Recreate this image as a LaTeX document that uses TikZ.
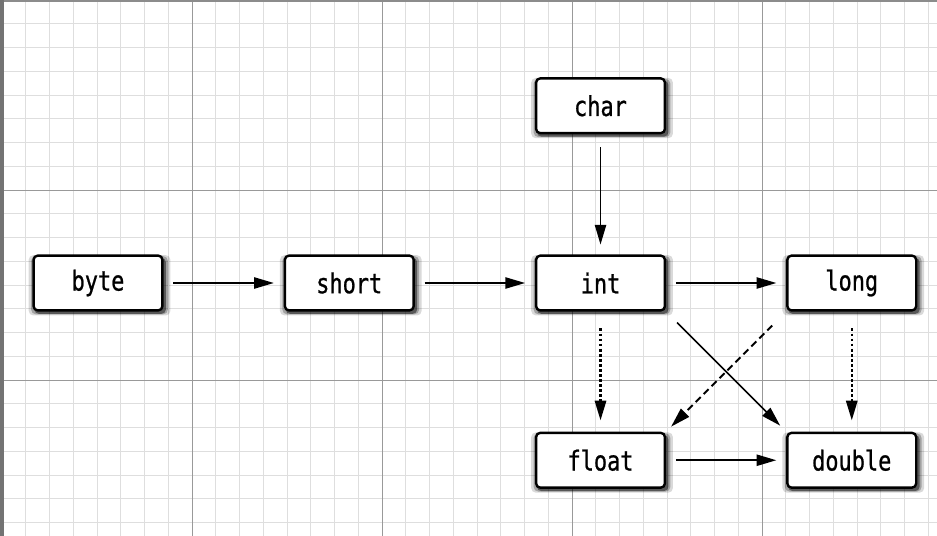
\documentclass[tikz,border=0pt]{standalone}
\usepackage{fontspec}
\newfontfamily\typefont[FakeStretch=0.8, FakeBold=0.8]{DejaVu Sans Mono}
\usetikzlibrary{arrows.meta, positioning, shadows}

\begin{document}
\begin{tikzpicture}[
  x=0.025cm, y=-0.025cm,
  node distance=3.0cm,
  finegrid/.style={draw=black!13, line width=0.6pt},
  coarsegrid/.style={draw=black!40, line width=0.6pt},
  typebox/.style={
    rectangle, rounded corners=3pt,
    draw=black, line width=1.7pt, fill=white,
    minimum width=3.22cm, minimum height=1.37cm,
    font=\typefont\fontsize{19.5}{22}\selectfont,
    general shadow={fill=black, opacity=0.15, shadow scale=1.1, shadow xshift=1pt, shadow yshift=-1.5pt},
    general shadow={fill=black, opacity=0.25, shadow scale=1.06, shadow xshift=1pt, shadow yshift=-1.5pt},
    general shadow={fill=black, opacity=0.45, shadow scale=1.02, shadow xshift=1.5pt, shadow yshift=-2pt},
  },
  widen/.style={-{Triangle[length=14pt, width=8pt]}, line width=1.1pt, shorten <=7pt, shorten >=7pt},
  lossy/.style={widen, line width=1.6pt, dash pattern=on 2pt off 1.6pt},
  lossydash/.style={widen, line width=1.4pt, dash pattern=on 5pt off 3pt},
]
  % squared paper
  \useasboundingbox (0,0) rectangle (937,536);
  \fill[white] (0,0) rectangle (937,536);
  \foreach \k in {0,...,39}
    \draw[finegrid] ({2+\k*23.75},0) -- ({2+\k*23.75},536);
  \foreach \k in {0,...,22}
    \draw[finegrid] (0,{\k*23.75}) -- (937,{\k*23.75});
  \foreach \k in {1,...,4}
    \draw[coarsegrid] ({2+\k*190},0) -- ({2+\k*190},536);
  \foreach \k in {1,2}
    \draw[coarsegrid] (0,{\k*190}) -- (937,{\k*190});
  \draw[black!45, line width=0.8pt] (0,1) -- (937,1);
  \draw[black!55, line width=3pt] (2,0) -- (2,536);

  % types
  \node[typebox] (byte) at (98,283) {byte};
  \node[typebox, right=of byte] (short) {short};
  \node[typebox, right=of short] (int) {int};
  \node[typebox, right=of int] (long) {long};
  \node[typebox, above=of int] (char) {char};
  \node[typebox, below=of int] (float) {float};
  \node[typebox, right=of float] (double) {double};

  % conversions
  \draw[widen] (byte) -- (short);
  \draw[widen] (short) -- (int);
  \draw[widen, shorten <=9pt] (char) -- (int);
  \draw[widen] (int) -- (long);
  \draw[widen] (float) -- (double);
  \draw[widen, shorten <=11pt, shorten >=6pt] (int.south east) -- (double.north west);
  \draw[lossy, shorten <=12pt, shorten >=8pt] (int) -- (float);
  \draw[lossy, shorten <=12pt, shorten >=8pt] (long) -- (double);
  \draw[lossydash, shorten <=14pt, shorten >=5pt] (long.south west) -- (float.north east);
\end{tikzpicture}
\end{document}
